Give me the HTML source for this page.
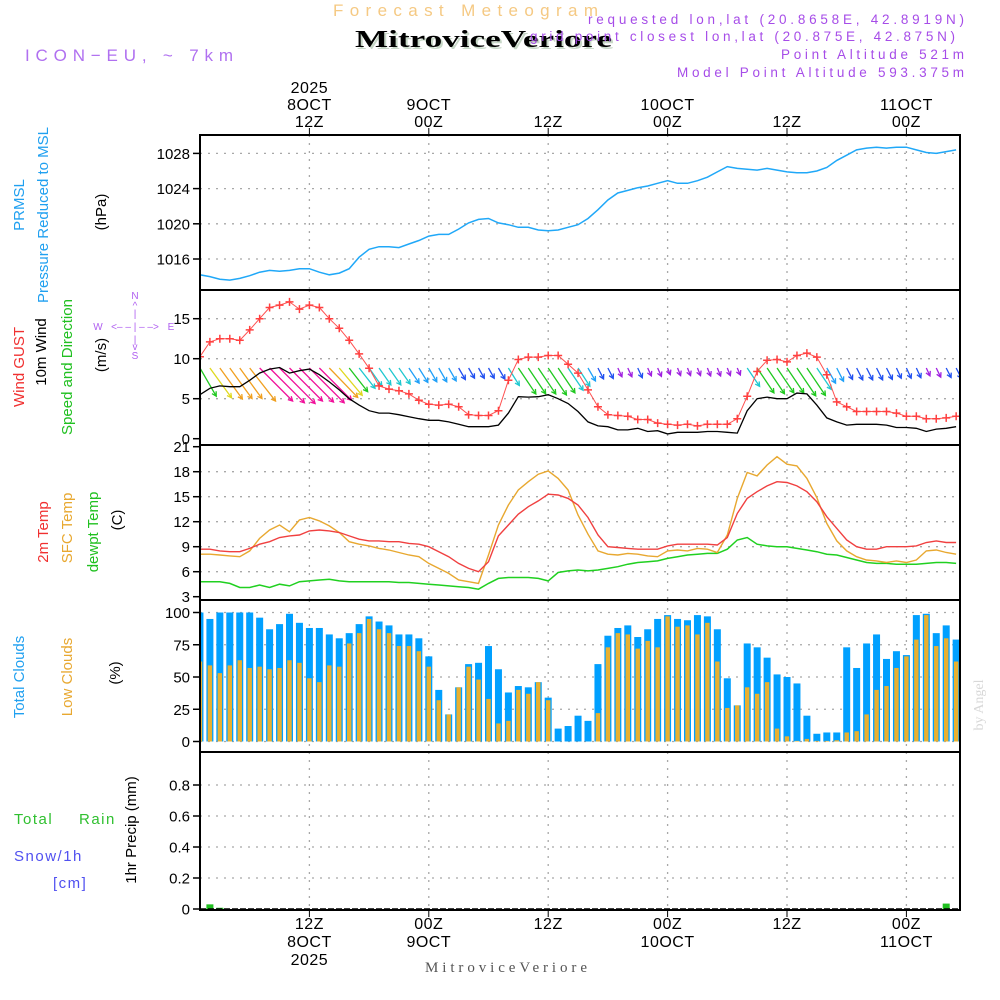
<!DOCTYPE html>
<html><head><meta charset="utf-8"><title>Forecast Meteogram MitroviceVeriore</title>
<style>
html,body{margin:0;padding:0;background:#fff;}
svg{display:block;font-family:"Liberation Sans",sans-serif;}
</style></head>
<body>
<svg id="chart" width="1000" height="1000" viewBox="0 0 1000 1000" xmlns="http://www.w3.org/2000/svg">
<rect x="0" y="0" width="1000" height="1000" fill="#fff"/>
<text x="333" y="16" font-size="17" fill="#f5c983" textLength="265" lengthAdjust="spacing">Forecast Meteogram</text>
<text x="357" y="49" font-size="24" font-weight="bold" font-family="Liberation Serif,serif" fill="#c8d8c8" textLength="257" lengthAdjust="spacingAndGlyphs">MitroviceVeriore</text>
<text x="355" y="47" font-size="24" font-weight="bold" font-family="Liberation Serif,serif" fill="#000" textLength="257" lengthAdjust="spacingAndGlyphs">MitroviceVeriore</text>
<text x="25" y="61" font-size="17" fill="#b070f0" textLength="208" lengthAdjust="spacing">ICON−EU, ~ 7km</text>
<g font-size="13.5" fill="#a64ce8">
<text x="588" y="24" textLength="376" lengthAdjust="spacing">requested lon,lat (20.8658E, 42.8919N)</text>
<text x="530" y="41" textLength="425" lengthAdjust="spacing">grid point closest lon,lat (20.875E, 42.875N)</text>
<text x="781" y="59" textLength="183" lengthAdjust="spacing">Point Altitude 521m</text>
<text x="677" y="77" textLength="287" lengthAdjust="spacing">Model Point Altitude 593.375m</text>
</g>
<g font-size="15">
<text transform="translate(24,205) rotate(-90)" text-anchor="middle" fill="#20a0f0">PRMSL</text>
<text transform="translate(48,215) rotate(-90)" text-anchor="middle" fill="#20a0f0">Pressure Reduced to MSL</text>
<text transform="translate(106,212) rotate(-90)" text-anchor="middle" fill="#000">(hPa)</text>
<text transform="translate(24,367) rotate(-90)" text-anchor="middle" fill="#f03030">Wind GUST</text>
<text transform="translate(46,352) rotate(-90)" text-anchor="middle" fill="#000">10m Wind</text>
<text transform="translate(72,367) rotate(-90)" text-anchor="middle" fill="#20c020">Speed and Direction</text>
<text transform="translate(106,355) rotate(-90)" text-anchor="middle" fill="#000">(m/s)</text>
<text transform="translate(48,532) rotate(-90)" text-anchor="middle" fill="#f03030">2m Temp</text>
<text transform="translate(72,528) rotate(-90)" text-anchor="middle" fill="#e8a830">SFC Temp</text>
<text transform="translate(98,532) rotate(-90)" text-anchor="middle" fill="#20c020">dewpt Temp</text>
<text transform="translate(122,520) rotate(-90)" text-anchor="middle" fill="#000">(C)</text>
<text transform="translate(24,677) rotate(-90)" text-anchor="middle" fill="#20a0f0">Total Clouds</text>
<text transform="translate(72,677) rotate(-90)" text-anchor="middle" fill="#e8a830">Low Clouds</text>
<text transform="translate(120,673) rotate(-90)" text-anchor="middle" fill="#000">(%)</text>
<text transform="translate(136,830) rotate(-90)" text-anchor="middle" fill="#000">1hr Precip (mm)</text>
<text x="14" y="824" fill="#30c030" letter-spacing="1.5">Total</text>
<text x="79" y="824" fill="#30c030" letter-spacing="1.5">Rain</text>
<text x="14" y="861" fill="#5050f0" letter-spacing="1.5">Snow/1h</text>
<text x="53" y="888" fill="#5050f0" letter-spacing="1.5">[cm]</text>
</g>
<g font-size="10" fill="#b060f0" text-anchor="middle">
<text x="135" y="299">N</text><text x="135" y="309">^</text><text x="135" y="317">|</text>
<text x="98" y="330">W</text><text x="135" y="330">&lt;– – | – –&gt;</text><text x="171" y="330">E</text>
<text x="135" y="343">|</text><text x="135" y="350">v</text><text x="135" y="359">S</text>
</g>
<text transform="translate(983,705) rotate(-90)" text-anchor="middle" font-size="14" font-family="Liberation Serif,serif" fill="#d8d8d8">by Angel</text>
<text x="425" y="972" font-size="15" font-family="Liberation Serif,serif" fill="#555" textLength="162" lengthAdjust="spacing">MitroviceVeriore</text>
<g id="plot"></g>
</svg>
<script>
// ---- data (hourly, hours 1..77 from 00Z 8OCT 2025) ----
const pressure = [1014.2,1014.0,1013.7,1013.6,1013.8,1014.1,1014.5,1014.7,1014.6,1014.7,1014.9,1014.9,1014.5,1014.2,1014.4,1014.9,1016.2,1017.1,1017.4,1017.4,1017.3,1017.7,1018.1,1018.6,1018.8,1018.8,1019.4,1020.1,1020.5,1020.6,1020.1,1019.9,1019.6,1019.6,1019.3,1019.2,1019.3,1019.6,1019.9,1020.6,1021.6,1022.7,1023.5,1023.8,1024.1,1024.3,1024.6,1024.9,1024.6,1024.6,1024.9,1025.3,1025.9,1026.5,1026.3,1026.2,1026.1,1026.3,1026.1,1025.9,1025.8,1025.8,1026.0,1026.4,1027.2,1027.8,1028.4,1028.6,1028.7,1028.6,1028.7,1028.7,1028.4,1028.1,1028.0,1028.2,1028.4];
const gust = [10.25,12.1,12.5,12.5,12.3,13.6,15,16.4,16.7,17.1,16.2,16.7,16.4,15,13.8,12.3,10.6,8.8,6.6,6.2,6.0,5.6,4.8,4.3,4.2,4.3,4.0,3.0,2.9,2.9,3.5,7.3,9.9,10.2,10.2,10.4,10.4,9.3,8.2,6.1,4.0,3.0,2.9,2.8,2.4,2.4,1.95,1.8,1.7,1.8,1.6,1.8,1.8,1.8,2.5,5.3,8.4,9.8,9.9,9.6,10.4,10.7,10.2,8.0,4.6,4.0,3.4,3.4,3.4,3.4,3.2,2.8,2.8,2.5,2.5,2.6,2.8];
const windSpeed = [5.5,6.3,6.6,6.5,6.5,7.3,8.2,8.7,8.9,8.2,8.5,8.7,8.0,7.1,6.1,5.0,4.2,3.5,3.2,3.2,3.0,2.75,2.5,2.3,2.3,2.1,1.8,1.5,1.5,1.5,1.7,3.2,5.25,5.2,5.25,5.5,5.0,4.4,3.4,2.1,1.6,1.5,1.1,1.1,1.3,0.9,1.0,0.6,0.8,0.8,0.8,0.9,0.9,0.8,0.7,3.5,5.0,5.2,5.0,5.0,5.7,5.6,4.2,2.6,2.1,1.7,1.8,1.8,1.8,1.7,1.4,1.4,1.3,0.9,1.2,1.3,1.5];
const windDir = [330,324,324,324,324,322,315,315,315,315,315,315,315,316,320,322,322,325,325,325,325,326,328,330,330,330,330,330,331,331,330,328,326,326,326,326,326,326,327,330,333,333,335,335,335,335,336,338,338,338,338,338,338,338,336,326,326,326,326,326,326,326,326,330,333,333,333,333,333,333,335,335,335,335,334,333,333];
const tempT2 = [8.7,8.7,8.5,8.4,8.4,8.8,9.3,9.6,10.1,10.3,10.4,10.9,11.0,10.9,10.7,10.3,9.9,9.7,9.7,9.6,9.6,9.4,9.3,9.0,8.4,7.8,7.0,6.4,6.0,7.2,10.3,11.6,12.9,13.8,14.5,15.3,15.2,14.8,14.0,12.5,10.4,9.0,8.9,8.8,8.7,8.7,8.7,9.1,9.3,9.3,9.3,9.3,9.2,10.1,13.0,14.8,15.6,16.3,16.8,16.7,16.3,15.6,14.4,12.6,11.2,9.8,9.0,8.7,8.7,9.0,9.0,9.0,9.1,9.5,9.7,9.5,9.5];
const tempSfc = [8.1,8.1,8.0,7.9,7.8,8.5,10.0,11.0,11.6,10.8,12.2,12.5,12.1,11.5,10.7,9.6,9.3,9.1,8.8,8.6,8.3,8.0,7.8,7.0,6.4,5.8,5.0,4.8,4.6,8.0,11.6,14.0,15.8,16.8,17.7,18.1,17.2,15.8,12.8,10.5,8.5,8.1,8.0,8.2,8.1,7.9,7.8,8.5,8.6,8.5,8.8,8.7,8.3,10.4,14.8,17.9,17.5,18.8,19.8,18.9,18.7,17.2,14.9,11.8,9.7,8.5,7.8,7.4,7.3,7.1,7.3,7.1,7.4,8.5,8.6,8.3,8.1];
const tempDew = [4.8,4.8,4.8,4.6,4.1,4.1,4.4,4.1,4.5,4.3,4.8,4.9,5.0,5.1,4.9,4.8,4.8,4.8,4.8,4.8,4.7,4.7,4.6,4.5,4.4,4.3,4.2,4.1,3.9,4.6,5.2,5.3,5.3,5.3,5.2,4.9,5.9,6.1,6.2,6.1,6.2,6.4,6.6,6.9,7.1,7.2,7.3,7.6,7.8,8.0,8.1,8.2,8.2,8.7,9.8,10.1,9.3,9.1,9.0,9.0,8.8,8.6,8.4,8.1,8.0,7.7,7.4,7.1,7.0,7.0,6.9,6.9,6.9,7.0,7.1,7.1,7.0];
const cloudTotal = [100,95,100,100,100,100,96,87,91,99,92,88,88,83,80,84,91,97,93,90,83,83,80,66,40,21,42,60,61,74,56,38,43,42,46,34,10,12,20,16,60,82,88,90,81,87,95,98,95,94,98,97,87,49,28,76,73,65,52,50,45,20,6,7,7,73,57,76,83,64,70,67,98,99,84,90,79];
const cloudLow = [62,59,53,59,63,57,58,56,57,63,61,49,46,59,58,76,84,95,87,84,74,74,70,58,32,21,42,58,48,33,14,16,40,37,46,32,0,0,0,0,22,73,84,83,72,78,73,97,89,90,83,92,62,26,28,42,37,46,10,4,0.5,2,0.5,0.5,1,7,8,21,40,43,57,66,79,98,74,80,62];
const precip = [0,0.03,0.008,0,0,0,0,0,0,0,0,0,0,0,0,0,0,0,0,0,0,0,0,0,0,0,0,0,0,0,0,0,0,0,0,0,0,0,0,0,0,0,0,0,0,0,0,0,0,0,0,0,0,0,0,0,0,0,0,0,0,0,0,0,0,0,0,0,0,0,0,0,0,0,0,0.035,0];
const pTicks = [1016,1020,1024,1028];
const wTicks = [0,5,10,15];
const tTicks = [3,6,9,12,15,18,21];
const cTicks = [0,25,50,75,100];
const rTicks = [0,0.2,0.4,0.6,0.8];
const rTickLabels = ["0","0.2","0.4","0.6","0.8"];
const timeHours = [12,24,36,48,60,72];
const topTimeLabels = [["2025","8OCT","12Z"],["","9OCT","00Z"],["","","12Z"],["","10OCT","00Z"],["","","12Z"],["","11OCT","00Z"]];
const bottomTimeLabels = [["12Z","8OCT","2025"],["00Z","9OCT",""],["12Z","",""],["00Z","10OCT",""],["12Z","",""],["00Z","11OCT",""]];

// ---- scales ----
const X0 = 200, X1 = 960;
const xS = h => 190 + 9.95 * h;
const yP = v => 259 - (v - 1016) * 8.8;
const yW = v => 438.7 - v * 8;
const yT = v => 596.7 - (v - 3) * 8.333;
const yC = v => 741.5 - v * 1.29;
const yR = v => 909 - v * 155;
const panels = [[135,290],[290,445],[445,600],[600,752],[752,910]];

const NS = "http://www.w3.org/2000/svg";
const plot = document.getElementById('plot');
function mk(tag, attrs, parent) {
  const e = document.createElementNS(NS, tag);
  for (const k in attrs) e.setAttribute(k, attrs[k]);
  (parent || plot).appendChild(e);
  return e;
}
const defs = mk('defs', {});
panels.forEach((p, i) => {
  const cp = mk('clipPath', {id: 'clip' + i}, defs);
  mk('rect', {x: X0, y: p[0], width: X1 - X0, height: p[1] - p[0]}, cp);
});

// grid
const grid = mk('g', {stroke: '#a8a8a8', 'stroke-width': 1.3, 'stroke-dasharray': '2,6'});


panels.forEach(p => {
  timeHours.forEach(h => mk('line', {x1: xS(h), x2: xS(h), y1: p[0], y2: p[1]}, grid));
});
function hgrid(ticks, sc) { ticks.forEach(t => mk('line', {x1: X0, x2: X1, y1: sc(t), y2: sc(t)}, grid)); }
hgrid(pTicks, yP); hgrid(wTicks.slice(1), yW); hgrid(tTicks.slice(1, 6), yT); hgrid(cTicks, yC); hgrid(rTicks.slice(1), yR);

// y axes
function yAxis(name, ticks, labels, sc) {
  const g = mk('g', {'font-size': 15, fill: '#000', 'text-anchor': 'end'});
  
  
  ticks.forEach((t, i) => {
    mk('line', {x1: 193, x2: 200, y1: sc(t), y2: sc(t), stroke: '#000', 'stroke-width': 1.5}, g);
    const tx = mk('text', {x: 190, y: sc(t) + 5.5}, g);
    tx.textContent = labels[i];
  });
}
yAxis('pressure-y-axis', pTicks, pTicks.map(String), yP);
yAxis('wind-y-axis', wTicks, wTicks.map(String), yW);
yAxis('temp-y-axis', tTicks, tTicks.map(String), yT);
yAxis('cloud-y-axis', cTicks, cTicks.map(String), yC);
yAxis('precip-y-axis', rTicks, rTickLabels, yR);

// time axes
const tg = mk('g', {'font-size': 16, fill: '#000', 'text-anchor': 'middle', 'letter-spacing': '0.5'});


timeHours.forEach((h, i) => {
  const x = xS(h);
  mk('line', {x1: x, x2: x, y1: 128, y2: 135, stroke: '#000'}, tg);
  mk('line', {x1: x, x2: x, y1: 910, y2: 917, stroke: '#000'}, tg);
  topTimeLabels[i].forEach((s, j) => { if (s) { const t = mk('text', {x: x, y: 93 + j * 17}, tg); t.textContent = s; } });
  bottomTimeLabels[i].forEach((s, j) => { if (s) { const t = mk('text', {x: x, y: 929 + j * 18}, tg); t.textContent = s; } });
});

// line helper
function line(name, arr, sc, color, clip, w) {
  const d = arr.map((v, i) => (i ? 'L' : 'M') + xS(i + 1).toFixed(1) + ',' + sc(v).toFixed(1)).join('');
  const p = mk('path', {d: d, fill: 'none', stroke: color, 'stroke-width': w || 1.3, 'clip-path': 'url(#clip' + clip + ')'});
  
  
  return p;
}

// pressure
line('pressure-line', pressure, yP, '#20a8f8', 0, 1.5);

// wind arrows
function windColor(s) {
  if (s < 1.3) return '#a020e0';
  if (s < 2.0) return '#2050f0';
  if (s < 3.0) return '#20a0f8';
  if (s < 4.5) return '#20c8d0';
  if (s < 5.8) return '#20c820';
  if (s < 6.5) return '#e0d820';
  if (s < 8.0) return '#f0a020';
  return '#f0109a';
}
const ag = mk('g', {'clip-path': 'url(#clip1)', 'stroke-width': 1.3, fill: 'none'});


windSpeed.forEach((s, i) => {
  const to = (windDir[i] + 180) * Math.PI / 180;
  const L = 4 + 5.2 * s;
  const x1 = xS(i + 1), y1 = 368;
  const x2 = x1 + Math.sin(to) * L, y2 = y1 - Math.cos(to) * L;
  const a = Math.atan2(y2 - y1, x2 - x1), hl = 5;
  const c = windColor(s);
  const ar = mk('path', {d: `M${x1},${y1}L${x2},${y2}M${x2 - hl * Math.cos(a - 0.5)},${y2 - hl * Math.sin(a - 0.5)}L${x2},${y2}L${x2 - hl * Math.cos(a + 0.5)},${y2 - hl * Math.sin(a + 0.5)}`, stroke: c}, ag);
  
  
});
line('wind-speed-line', windSpeed, yW, '#000', 1, 1.3);
line('gust-line', gust, yW, '#ff5050', 1, 1);
const gm = mk('g', {stroke: '#ff4040', 'stroke-width': 1.5, 'clip-path': 'url(#clip1)'});


gust.forEach((v, i) => {
  const x = xS(i + 1), y = yW(v);
  mk('path', {d: `M${x - 4},${y}H${x + 4}M${x},${y - 4}V${y + 4}`}, gm);
});

// temperatures
line('dewpoint-line', tempDew, yT, '#20d020', 2, 1.5);
line('sfc-temp-line', tempSfc, yT, '#e8a830', 2, 1.4);
line('t2m-line', tempT2, yT, '#f04040', 2, 1.4);

// clouds
const cg = mk('g', {'clip-path': 'url(#clip3)'});


cloudTotal.forEach((v, i) => {
  const x = xS(i + 1);
  const b = mk('rect', {x: x - 3.5, y: yC(v), width: 7, height: yC(0) - yC(v), fill: '#00a0ff'}, cg);
  
  
  const l = cloudLow[i];
  const b2 = mk('rect', {x: x - 2.2, y: yC(l), width: 4.4, height: yC(0) - yC(l), fill: '#e8b030'}, cg);
  
  
});

// precip
const rg = mk('g', {'clip-path': 'url(#clip4)'});


precip.forEach((v, i) => {
  if (v <= 0) return;
  const x = xS(i + 1);
  const b = mk('rect', {x: x - 3.5, y: yR(v), width: 7, height: yR(0) - yR(v), fill: '#20c020'}, rg);
  
  
});

// panel frames
const fg = mk('g', {fill: 'none', stroke: '#000', 'stroke-width': 2});


panels.forEach(p => mk('rect', {x: X0, y: p[0], width: X1 - X0, height: p[1] - p[0]}, fg));
mk('line', {x1: X0, x2: X1, y1: 909.5, y2: 909.5, stroke: '#000', 'stroke-width': 2.5, 'stroke-dasharray': '6,2'}, fg);
</script>
</body></html>
